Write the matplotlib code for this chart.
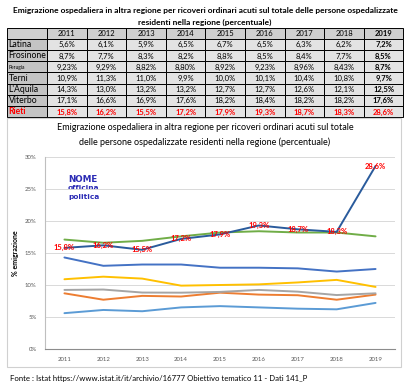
import matplotlib
matplotlib.use('Agg')
import matplotlib.pyplot as plt
from matplotlib.patches import Rectangle

plt.rcParams['font.family'] = ['Lato', 'DejaVu Sans']

years = [2011, 2012, 2013, 2014, 2015, 2016, 2017, 2018, 2019]
regions = ['Latina', 'Frosinone', 'Perugia', 'Terni', "L'Aquila", 'Viterbo', 'Rieti']

latina = [5.6, 6.1, 5.9, 6.5, 6.7, 6.5, 6.3, 6.2, 7.2]
frosinone = [8.7, 7.7, 8.3, 8.2, 8.8, 8.5, 8.4, 7.7, 8.5]
perugia = [9.23, 9.29, 8.82, 8.80, 8.92, 9.23, 8.96, 8.43, 8.7]
terni = [10.9, 11.3, 11.0, 9.9, 10.0, 10.1, 10.4, 10.8, 9.7]
laquila = [14.3, 13.0, 13.2, 13.2, 12.7, 12.7, 12.6, 12.1, 12.5]
viterbo = [17.1, 16.6, 16.9, 17.6, 18.2, 18.4, 18.2, 18.2, 17.6]
rieti = [15.8, 16.2, 15.5, 17.2, 17.9, 19.3, 18.7, 18.3, 28.6]

series = [latina, frosinone, perugia, terni, laquila, viterbo, rieti]
decimals = [1, 1, 2, 1, 1, 1, 1]  # last year always shown with one decimal
line_colors = ['#5b9bd5', '#ed7d31', '#a5a5a5', '#ffc000', '#4472c4', '#70ad47', '#2a5b9c']

title_text = ('Emigrazione ospedaliera in altra regione per ricoveri ordinari acuti sul totale delle persone ospedalizzate\n'
              'residenti nella regione (percentuale)')
chart_title = ('Emigrazione ospedaliera in altra regione per ricoveri ordinari acuti sul totale\n'
               'delle persone ospedalizzate residenti nella regione (percentuale)')
source_text = 'Fonte : Istat https://www.istat.it/it/archivio/16777 Obiettivo tematico 11 - Dati 141_P'

W, H = 408, 385
fig = plt.figure(figsize=(W / 100, H / 100), dpi=100)

# background axes in pixel coordinates for the table and frames
bg = fig.add_axes([0, 0, 1, 1])
bg.set_xlim(0, W)
bg.set_ylim(H, 0)
bg.axis('off')


def fmt(v, d):
    return ('{:.%df}%%' % d).format(v).replace('.', ',')


bg.text(205, 10, title_text.split('\n')[0], ha='center', va='center', fontsize=6.05, fontweight='bold')
bg.text(205, 22, title_text.split('\n')[1], ha='center', va='center', fontsize=6.05, fontweight='bold')

# table
x0, name_w, col_w = 7, 40, 39.6
y0, row_h = 27.5, 11.2
for j, yr in enumerate(years):
    cx = x0 + name_w + j * col_w
    bg.add_patch(Rectangle((cx, y0), col_w, row_h, fc='#cfcfcf', ec='black', lw=0.7))
    bg.text(cx + col_w / 2, y0 + row_h / 2 + 0.5, str(yr), ha='center', va='center', fontsize=5.5,
            fontweight='bold' if j == len(years) - 1 else 'normal')
bg.add_patch(Rectangle((x0, y0), name_w, row_h, fc='#cfcfcf', ec='black', lw=0.7))

for i, (name, vals) in enumerate(zip(regions, series)):
    ry = y0 + (i + 1) * row_h
    is_rieti = name == 'Rieti'
    tcolor = 'red' if is_rieti else 'black'
    bg.add_patch(Rectangle((x0, ry), name_w, row_h, fc='#c4c4c4', ec='black', lw=0.7))
    bg.text(x0 + 1.5, ry + row_h / 2 + 0.5, name, ha='left', va='center',
            fontsize=3.5 if name == 'Perugia' else 6.2, color=tcolor,
            fontweight='bold' if is_rieti else 'normal')
    for j, v in enumerate(vals):
        cx = x0 + name_w + j * col_w
        last = j == len(vals) - 1
        bg.add_patch(Rectangle((cx, ry), col_w, row_h, fc='#e3e3e3', ec='black', lw=0.7))
        bg.text(cx + col_w / 2, ry + row_h / 2 + 0.5, fmt(v, 1 if last else decimals[i]),
                ha='center', va='center', fontsize=5.5, color=tcolor,
                fontweight='bold' if (last or is_rieti) else 'normal')

# chart frame
bg.add_patch(Rectangle((7, 118), 394, 249, fc='white', ec='#d0d0d0', lw=0.8))
bg.text(205, 128, chart_title.split('\n')[0], ha='center', va='center', fontsize=6.5)
bg.text(205, 142, chart_title.split('\n')[1], ha='center', va='center', fontsize=6.5)
bg.text(10, 379, source_text, ha='left', va='center', fontsize=5.55)

# logo
logo = dict(color='#2b2bb5', family='DejaVu Sans', fontweight='bold', va='center')
bg.text(68, 180, 'NOME', fontsize=6.3, **logo)
bg.text(68, 188.5, 'officina', fontsize=5.3, **logo)
bg.text(68, 196.5, 'politica', fontsize=5.3, **logo)

# line chart
ax = fig.add_axes([45 / W, 1 - 349 / H, 350 / W, 192 / H])
ax.patch.set_alpha(0)
xs = list(range(len(years)))
for vals, c in zip(series, line_colors):
    ax.plot(xs, vals, color=c, lw=1.4, solid_capstyle='round')
for x, v in zip(xs, rieti):
    ax.text(x, v, fmt(v, 1), color='red', fontsize=5.5, fontweight='bold', ha='center', va='center')

ax.set_xlim(-0.5, len(years) - 0.5)
ax.set_ylim(0, 30)
ax.set_yticks(range(0, 31, 5))
ax.set_yticklabels(['%d%%' % t for t in range(0, 31, 5)])
ax.set_xticks(xs)
ax.set_xticklabels([str(y) for y in years])
ax.tick_params(length=0, labelsize=4.3, colors='#595959', pad=6)
ax.grid(axis='y', color='#d9d9d9', lw=0.7)
ax.set_axisbelow(True)
for s in ['top', 'right']:
    ax.spines[s].set_visible(False)
ax.spines['left'].set_color('#bfbfbf')
ax.spines['bottom'].set_color('#8c8c8c')
ax.set_ylabel('% emigrazione', fontsize=5, fontweight='bold', labelpad=4)

fig.savefig('out.png', dpi=100)
